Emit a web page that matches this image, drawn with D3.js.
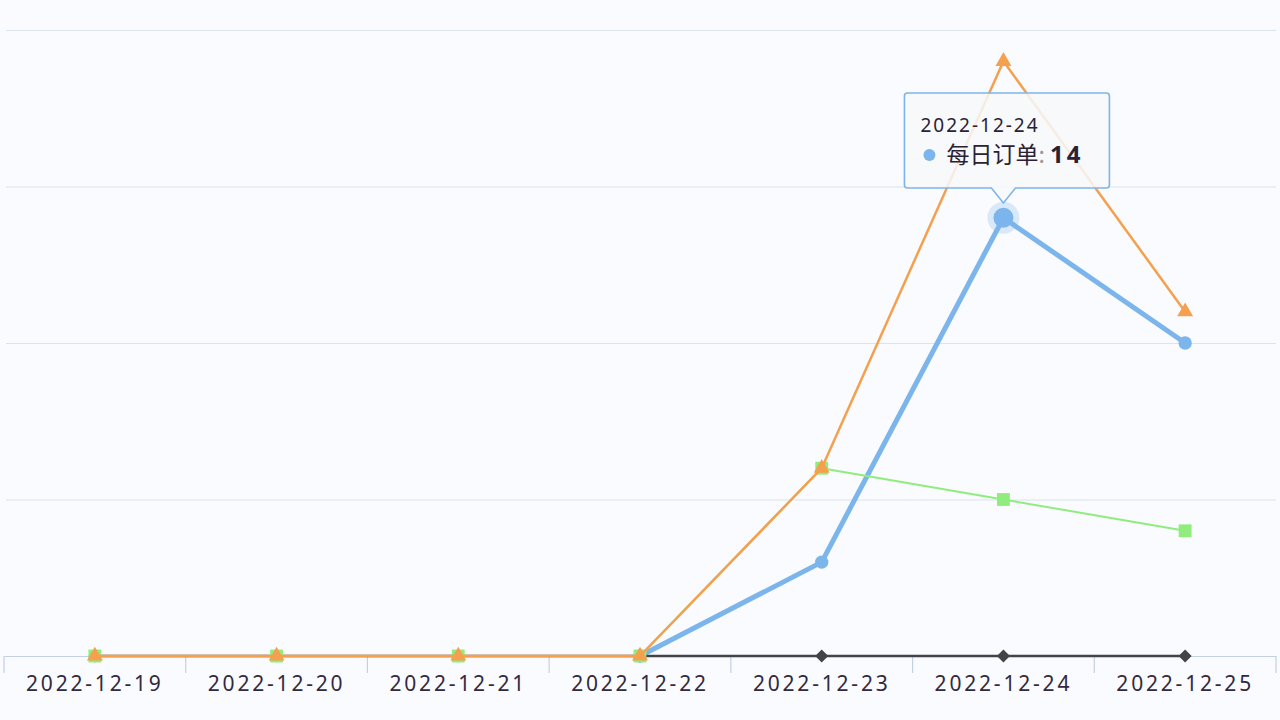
<!DOCTYPE html>
<html>
<head>
<meta charset="utf-8">
<script src="https://cdn.jsdelivr.net/npm/d3@7"></script>
<style>
  html, body { margin: 0; padding: 0; background: #f9fbfe; }
  svg { display: block; }
</style>
</head>
<body>
<div class="order-chart"></div>
<script>
const w = 1280;
const h = 720;

// data
const dates = ["2022-12-19", "2022-12-20", "2022-12-21", "2022-12-22", "2022-12-23", "2022-12-24", "2022-12-25"];
const dailyOrders = [null, null, null, 0, 3, 14, 10];   // 每日订单 (blue)
const seriesBlack = [0, 0, 0, 0, 0, 0, 0];
const seriesGreen = [0, 0, 0, 0, 6, 5, 4];
const seriesOrange = [0, 0, 0, 0, 6, 19, 11];
const yTicks = [0, 5, 10, 15, 20];

const hoverIndex = 5; // tooltip sits on 2022-12-24

const series = [
  { name: "每日订单", values: dailyOrders, color: "#7cb5ec", width: 5, symbol: d3.symbolCircle, size: 140, rotate: 0 },
  { name: "s2", values: seriesBlack, color: "#434348", width: 2.5, symbol: d3.symbolSquare, size: 85, rotate: 45 },
  { name: "s3", values: seriesGreen, color: "#90ed7d", width: 2, symbol: d3.symbolSquare, size: 165, rotate: 0 },
  { name: "s4", values: seriesOrange, color: "#f5a04e", width: 2.5, symbol: d3.symbolTriangle, size: 110, rotate: 0 }
];

let svg = d3.select("body").select(".order-chart")
    .append("svg")
    .attr("width", w)
    .attr("height", h);

let x = d3.scaleBand()
    .domain(dates)
    .range([4, 1276]);

let y = d3.scaleLinear()
    .domain([0, 20])
    .range([656, 30]);

const cx = (d) => x(d) + x.bandwidth() / 2;

// horizontal grid
svg.append("g")
    .attr("class", "grid")
    .attr("transform", "translate(6, 0)")
    .call(d3.axisLeft(y).tickValues(yTicks).tickSize(-1270).tickFormat(""))
    .call(g => g.select(".domain").remove())
    .call(g => g.selectAll("line").attr("stroke", "#dbe4ee").attr("stroke-width", 1.2));

// x axis, ticks between categories
let xAxis = svg.append("g")
    .attr("class", "x axis")
    .attr("transform", "translate(0, 656)")
    .call(d3.axisBottom(x).tickSize(0).tickPadding(20));

xAxis.select(".domain").attr("stroke", "#c4d1e3").attr("stroke-width", 1.2);
xAxis.selectAll("text")
    .attr("fill", "#33293f")
    .style("font-family", "'Noto Sans', 'DejaVu Sans', sans-serif")
    .style("font-size", "21px")
    .style("letter-spacing", "2.8px");

xAxis.selectAll(".boundary")
    .data(dates.concat(["end"]))
    .enter()
    .append("line")
    .attr("class", "boundary")
    .attr("x1", (d, i) => i < dates.length ? x(d) : x.range()[1])
    .attr("x2", (d, i) => i < dates.length ? x(d) : x.range()[1])
    .attr("y1", 0)
    .attr("y2", 17)
    .attr("stroke", "#c4d1e3")
    .attr("stroke-width", 1.2);

let line = d3.line()
    .defined((d) => d.v !== null)
    .x((d) => cx(d.date))
    .y((d) => y(d.v));

series.forEach((s) => {
  let pts = dates.map((d, i) => ({ date: d, v: s.values[i] }));
  let g = svg.append("g").attr("class", "series");

  g.append("path")
      .datum(pts)
      .attr("fill", "none")
      .attr("stroke", s.color)
      .attr("stroke-width", s.width)
      .attr("stroke-linejoin", "round")
      .attr("stroke-linecap", "round")
      .attr("d", line);

  g.selectAll("path.marker")
      .data(pts.filter((p) => p.v !== null))
      .enter()
      .append("path")
      .attr("class", "marker")
      .attr("d", d3.symbol().type(s.symbol).size(s.size))
      .attr("fill", s.color)
      .attr("transform", (p) => "translate(" + cx(p.date) + "," + y(p.v) + ") rotate(" + s.rotate + ")");
});

// hover state on the blue point
let hx = cx(dates[hoverIndex]);
let hy = y(dailyOrders[hoverIndex]);

svg.append("circle")
    .attr("cx", hx)
    .attr("cy", hy)
    .attr("r", 16)
    .attr("fill", "#7cb5ec")
    .attr("opacity", 0.25);

svg.append("circle")
    .attr("cx", hx)
    .attr("cy", hy)
    .attr("r", 10)
    .attr("fill", "#7cb5ec");

// tooltip
let tip = svg.append("g").attr("class", "tooltip");
let bx0 = hx - 99, bx1 = hx + 106, by0 = 93, by1 = 188;

tip.append("path")
    .attr("d", "M" + (bx0 + 3) + "," + by0 + " H" + (bx1 - 3) + " Q" + bx1 + "," + by0 + " " + bx1 + "," + (by0 + 3) +
      " V" + (by1 - 3) + " Q" + bx1 + "," + by1 + " " + (bx1 - 3) + "," + by1 +
      " H" + (hx + 12) + " L" + hx + "," + (by1 + 15) + " L" + (hx - 12) + "," + by1 +
      " H" + (bx0 + 3) + " Q" + bx0 + "," + by1 + " " + bx0 + "," + (by1 - 3) +
      " V" + (by0 + 3) + " Q" + bx0 + "," + by0 + " " + (bx0 + 3) + "," + by0 + " Z")
    .attr("fill", "rgba(247,248,250,0.86)")
    .attr("stroke", "#7cb5ec")
    .attr("stroke-width", 1.6);

tip.append("text")
    .attr("x", bx0 + 16)
    .attr("y", 132)
    .attr("fill", "#2a2234")
    .style("font-family", "'Noto Sans', 'DejaVu Sans', sans-serif")
    .style("font-size", "19px")
    .style("letter-spacing", "2px")
    .text(dates[hoverIndex]);

tip.append("circle")
    .attr("cx", bx0 + 25)
    .attr("cy", 155)
    .attr("r", 6)
    .attr("fill", "#7cb5ec");

let label = tip.append("text")
    .attr("x", bx0 + 42)
    .attr("y", 163)
    .attr("fill", "#2a2234")
    .style("font-family", "'Noto Sans CJK SC', 'Noto Sans', sans-serif")
    .style("font-size", "23px");

label.append("tspan").text(series[0].name);
label.append("tspan").attr("fill", "#999").text(":  ");
label.append("tspan")
    .style("font-weight", "bold")
    .style("font-family", "'Noto Sans', sans-serif")
    .style("font-size", "24px")
    .style("letter-spacing", "3px")
    .text(dailyOrders[hoverIndex]);
</script>
</body>
</html>
